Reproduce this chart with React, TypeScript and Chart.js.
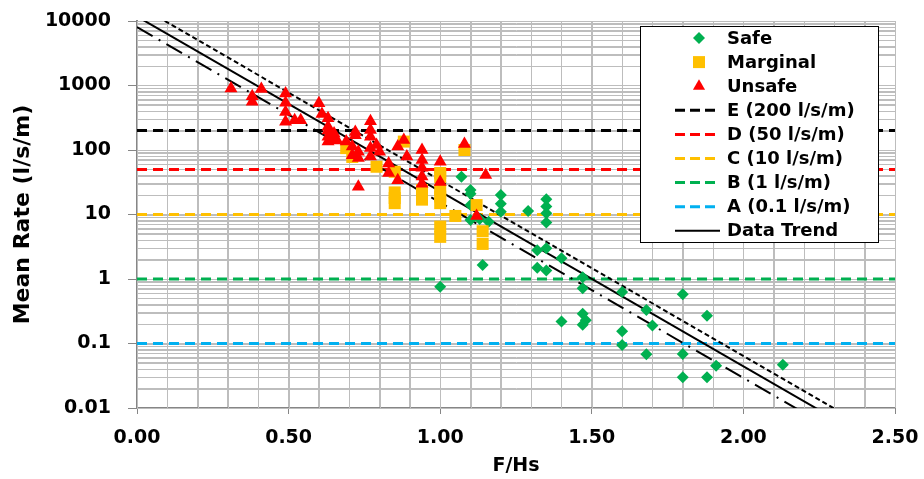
import React, { useEffect, useRef } from 'react';
import { Chart, registerables } from 'chart.js';

Chart.register(...registerables);

// ---- data ----
const safeX = [1.00, 1.07, 1.10, 1.10, 1.10, 1.10, 1.13, 1.14, 1.16, 1.20, 1.20, 1.20, 1.29, 1.32, 1.32, 1.35, 1.35, 1.35, 1.35, 1.35, 1.35, 1.40, 1.40, 1.47, 1.47, 1.47, 1.48, 1.47, 1.60, 1.60, 1.60, 1.68, 1.68, 1.70, 1.80, 1.80, 1.80, 1.88, 1.88, 1.91, 2.13];
const safeY = [0.76, 38.6, 24, 21, 14, 8.2, 8.5, 1.65, 7.7, 20, 14.7, 11, 11.3, 2.8, 1.5, 17.2, 13.3, 10.5, 7.5, 3.0, 1.35, 2.1, 0.22, 1.06, 0.72, 0.29, 0.23, 0.195, 0.63, 0.155, 0.095, 0.33, 0.068, 0.19, 0.58, 0.069, 0.03, 0.27, 0.03, 0.045, 0.047];

const marginalX = [0.69, 0.71, 0.79, 0.85, 0.85, 0.85, 0.85, 0.88, 0.94, 0.94, 0.94, 1.00, 1.00, 1.00, 1.00, 1.00, 1.00, 1.00, 1.05, 1.08, 1.12, 1.14, 1.14];
const marginalY = [107, 78, 55, 46, 22, 18, 15, 135, 24, 19, 17, 44, 38, 24, 19, 15, 6.5, 4.5, 9.5, 100, 14, 5.5, 3.5];

const unsafeX = [0.31, 0.38, 0.38, 0.41, 0.49, 0.49, 0.49, 0.49, 0.52, 0.54, 0.60, 0.61, 0.63, 0.63, 0.63, 0.63, 0.63, 0.65, 0.65, 0.66, 0.69, 0.71, 0.72, 0.72, 0.73, 0.73, 0.71, 0.73, 0.77, 0.77, 0.77, 0.77, 0.77, 0.79, 0.80, 0.83, 0.83, 0.86, 0.86, 0.88, 0.89, 0.94, 0.94, 0.94, 0.94, 0.94, 1.00, 1.00, 1.08, 1.12, 1.15];
const unsafeY = [900, 680, 560, 880, 750, 540, 390, 275, 290, 290, 530, 360, 310, 230, 200, 160, 135, 180, 150, 140, 135, 113, 190, 170, 94, 75, 83, 27, 280, 204, 160, 107, 79, 120, 94, 62, 44, 113, 34, 143, 79, 100, 70, 53, 39, 30, 66, 32, 124, 9.5, 41];

const levelNames = ['E (200 l/s/m)', 'D (50 l/s/m)', 'C (10 l/s/m)', 'B (1 l/s/m)', 'A (0.1 l/s/m)'];
const levelValues = [200, 50, 10, 1, 0.1];
const levelColors = ['#000000', '#FF0000', '#FFC000', '#00B050', '#00B0F0'];
const levelX = [0, 2.5];

const trendX = [0, 2.5];
const trendMidY = [11750, 0.00195];
const trendUpperY = [17800, 0.00279];
const trendLowerY = [8070, 0.00128];

const xTickValues = [0, 0.1, 0.2, 0.3, 0.4, 0.5, 0.6, 0.7, 0.8, 0.9, 1.0, 1.1, 1.2, 1.3, 1.4, 1.5, 1.6, 1.7, 1.8, 1.9, 2.0, 2.1, 2.2, 2.3, 2.4, 2.5];
const xTickLabels = ['0.00', '0.50', '1.00', '1.50', '2.00', '2.50'];
const yDecades = [0.01, 0.1, 1, 10, 100, 1000, 10000];
const yTickLabels = ['0.01', '0.1', '1', '10', '100', '1000', '10000'];
const yMinorMultipliers = [2, 3, 4, 5, 6, 7, 8, 9];

const FONT = "'DejaVu Sans', sans-serif";
const GRID = '#BDBDBD';

const isHalf = (v: number) => Math.abs(v * 2 - Math.round(v * 2)) < 1e-6;
const decadeIndex = (v: number) => yDecades.findIndex((d) => Math.abs(v / d - 1) < 1e-6);

function pts(xs: number[], ys: number[]) {
  return xs.map((x, i) => ({ x, y: ys[i] }));
}

function drawMarker(ctx: CanvasRenderingContext2D, kind: string, x: number, y: number, color: string) {
  ctx.save();
  ctx.fillStyle = color;
  ctx.beginPath();
  if (kind === 'diamond') {
    const r = 6;
    ctx.moveTo(x, y - r);
    ctx.lineTo(x + r, y);
    ctx.lineTo(x, y + r);
    ctx.lineTo(x - r, y);
  } else if (kind === 'square') {
    ctx.rect(x - 6, y - 6, 12, 12);
  } else {
    const r = 7;
    ctx.moveTo(x, y - r);
    ctx.lineTo(x + r * 0.866, y + r * 0.5);
    ctx.lineTo(x - r * 0.866, y + r * 0.5);
  }
  ctx.closePath();
  ctx.fill();
  ctx.restore();
}

// Grid drawn explicitly from the scales (so every 0.1 / log-minor line is visible)
const gridPlugin = {
  id: 'fineGrid',
  beforeDatasetsDraw(chart: any) {
    const { ctx, chartArea, scales } = chart;
    const xs = scales.x;
    const ys = scales.y;
    ctx.save();
    ctx.strokeStyle = GRID;
    ctx.lineWidth = 1;
    ctx.beginPath();
    xTickValues.forEach((v) => {
      const px = Math.round(xs.getPixelForValue(v)) + 0.5;
      ctx.moveTo(px, chartArea.top);
      ctx.lineTo(px, chartArea.bottom);
    });
    yDecades.forEach((d, i) => {
      const vals = [d];
      if (i < yDecades.length - 1) yMinorMultipliers.forEach((m) => vals.push(d * m));
      vals.forEach((v) => {
        const py = Math.round(ys.getPixelForValue(v)) + 0.5;
        ctx.moveTo(chartArea.left, py);
        ctx.lineTo(chartArea.right, py);
      });
    });
    ctx.stroke();
    ctx.restore();
  },
};

const legendPlugin = {
  id: 'boxLegend',
  afterDraw(chart: any) {
    const ctx: CanvasRenderingContext2D = chart.ctx;
    const bx = 640.5, by = 26.5, bw = 238, bh = 216;
    ctx.save();
    ctx.fillStyle = '#ffffff';
    ctx.fillRect(bx, by, bw, bh);
    ctx.strokeStyle = '#000000';
    ctx.lineWidth = 1;
    ctx.strokeRect(bx, by, bw, bh);
    const entries: { label: string; kind: string; color: string }[] = [
      { label: 'Safe', kind: 'diamond', color: '#00B050' },
      { label: 'Marginal', kind: 'square', color: '#FFC000' },
      { label: 'Unsafe', kind: 'triangle', color: '#FF0000' },
      ...levelNames.map((n, i) => ({ label: n, kind: 'dash', color: levelColors[i] })),
      { label: 'Data Trend', kind: 'solid', color: '#000000' },
    ];
    ctx.font = `bold 18px ${FONT}`;
    ctx.textBaseline = 'middle';
    ctx.textAlign = 'left';
    entries.forEach((e, i) => {
      const y = 38 + i * 24.1;
      if (e.kind === 'dash' || e.kind === 'solid') {
        ctx.save();
        ctx.strokeStyle = e.color;
        ctx.lineWidth = e.kind === 'dash' ? 3 : 2;
        ctx.setLineDash(e.kind === 'dash' ? [10, 5] : []);
        ctx.beginPath();
        ctx.moveTo(675, y);
        ctx.lineTo(720, y);
        ctx.stroke();
        ctx.restore();
      } else {
        drawMarker(ctx, e.kind, 699, y, e.color);
      }
      ctx.fillStyle = '#000000';
      ctx.fillText(e.label, 727, y + 1);
    });
    ctx.restore();
  },
};

export default function App() {
  const canvasRef = useRef<HTMLCanvasElement | null>(null);

  useEffect(() => {
    const canvas = canvasRef.current;
    if (!canvas) return;

    const levelSets = levelValues.map((v, i) => ({
      type: 'line' as const,
      label: levelNames[i],
      data: levelX.map((x) => ({ x, y: v })),
      borderColor: levelColors[i],
      borderWidth: 3,
      borderDash: [10, 6],
      pointRadius: 0,
      showLine: true,
      fill: false,
    }));

    const trendSet = (label: string, ys: number[], dash: number[]) => ({
      type: 'line' as const,
      label,
      data: pts(trendX, ys),
      borderColor: '#000000',
      borderWidth: 2,
      borderDash: dash,
      pointRadius: 0,
      showLine: true,
      fill: false,
    });

    const chart = new Chart(canvas, {
      type: 'scatter',
      data: {
        datasets: [
          {
            label: 'Unsafe',
            data: pts(unsafeX, unsafeY),
            pointStyle: 'triangle',
            pointRadius: 7.5,
            backgroundColor: '#FF0000',
            borderColor: '#FF0000',
            borderWidth: 0,
          },
          {
            label: 'Marginal',
            data: pts(marginalX, marginalY),
            pointStyle: 'rect',
            pointRadius: 8.5,
            backgroundColor: '#FFC000',
            borderColor: '#FFC000',
            borderWidth: 0,
          },
          {
            label: 'Safe',
            data: pts(safeX, safeY),
            pointStyle: 'rectRot',
            pointRadius: 6,
            backgroundColor: '#00B050',
            borderColor: '#00B050',
            borderWidth: 0,
          },
          trendSet('Data Trend', trendMidY, []),
          trendSet('Upper', trendUpperY, [5, 3]),
          trendSet('Lower', trendLowerY, [18, 7, 2, 7]),
          ...levelSets,
        ] as any,
      },
      options: {
        responsive: false,
        animation: false,
        layout: { padding: { top: 21, right: 29, left: 0, bottom: 0 } },
        plugins: {
          legend: { display: false },
          tooltip: { enabled: false },
        },
        scales: {
          x: {
            type: 'linear',
            min: 0,
            max: 2.5,
            afterBuildTicks: (axis: any) => {
              axis.ticks = xTickValues.map((v) => ({ value: v }));
            },
            afterFit: (axis: any) => {
              axis.height = 71;
              axis.paddingLeft = 0;
              axis.paddingRight = 0;
            },
            ticks: {
              autoSkip: false,
              maxRotation: 0,
              padding: 13,
              color: '#000000',
              font: { family: FONT, size: 19, weight: 'bold' },
              callback: (v: any) => (isHalf(Number(v)) ? xTickLabels[Math.round(Number(v) * 2)] : ''),
            },
            grid: {
              color: GRID,
              lineWidth: 1,
              tickLength: 6,
              tickColor: (c: any) => (c.tick && isHalf(c.tick.value) ? '#868686' : 'transparent'),
            },
            border: { display: true, color: '#868686', width: 2 },
            title: {
              display: true,
              text: 'F/Hs',
              color: '#000000',
              font: { family: FONT, size: 19, weight: 'bold' },
              padding: { top: 0, bottom: 2 },
            },
          },
          y: {
            type: 'logarithmic',
            min: 0.01,
            max: 10000,
            afterBuildTicks: (axis: any) => {
              const t: { value: number }[] = [];
              yDecades.forEach((d, i) => {
                t.push({ value: d });
                if (i < yDecades.length - 1) yMinorMultipliers.forEach((m) => t.push({ value: d * m }));
              });
              axis.ticks = t;
            },
            afterFit: (axis: any) => {
              axis.width = 137;
              axis.paddingTop = 0;
              axis.paddingBottom = 0;
            },
            ticks: {
              autoSkip: false,
              padding: 17,
              color: '#000000',
              font: { family: FONT, size: 19, weight: 'bold' },
              callback: (v: any) => {
                const i = decadeIndex(Number(v));
                return i >= 0 ? yTickLabels[i] : '';
              },
            },
            grid: {
              color: GRID,
              lineWidth: 1,
              tickLength: 9,
              tickColor: (c: any) => (c.tick && decadeIndex(c.tick.value) >= 0 ? '#868686' : 'transparent'),
            },
            border: { display: true, color: '#868686', width: 2 },
            title: {
              display: true,
              text: 'Mean Rate (l/s/m)',
              color: '#000000',
              font: { family: FONT, size: 22, weight: 'bold' },
              padding: { top: 10, bottom: 0 },
            },
          },
        },
      },
      plugins: [gridPlugin, legendPlugin],
    });

    return () => chart.destroy();
  }, []);

  return (
    <div style={{ position: 'absolute', left: 0, top: 0, width: 924, height: 479, background: '#ffffff' }}>
      <canvas ref={canvasRef} width={924} height={479} />
    </div>
  );
}
